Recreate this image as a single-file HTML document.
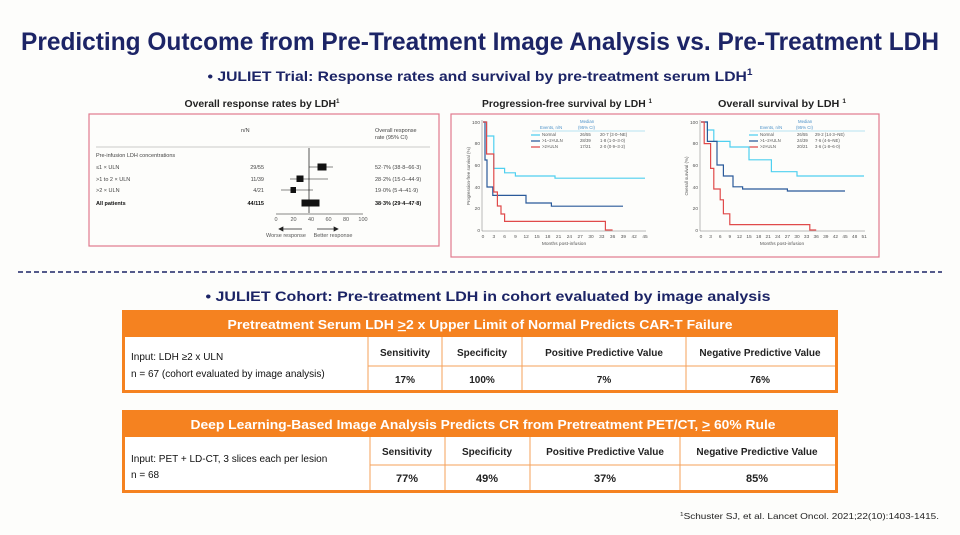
<!DOCTYPE html>
<html><head><meta charset="utf-8"><style>
html,body{margin:0;padding:0;background:#fdfdfb;}
svg{display:block;font-family:"Liberation Sans",sans-serif;}
</style></head><body>
<svg width="960" height="535" viewBox="0 0 960 535" xmlns="http://www.w3.org/2000/svg">
<rect width="960" height="535" fill="#fdfdfb"/>
<text x="480" y="50" text-anchor="middle" font-size="25" font-weight="bold" fill="#1c2466" textLength="918" lengthAdjust="spacingAndGlyphs">Predicting Outcome from Pre-Treatment Image Analysis vs. Pre-Treatment LDH</text>
<text x="480" y="81" text-anchor="middle" font-size="14" font-weight="bold" fill="#1c2466" textLength="545" lengthAdjust="spacingAndGlyphs">• JULIET Trial: Response rates and survival by pre-treatment serum LDH<tspan font-size="9" dy="-6">1</tspan></text>

<!-- ORR -->
<text x="262" y="107" text-anchor="middle" font-size="10" font-weight="bold" fill="#222" textLength="155" lengthAdjust="spacingAndGlyphs">Overall response rates by LDH<tspan font-size="6" dy="-4">1</tspan></text>
<rect x="89" y="114" width="350" height="132" fill="#fdfdfb" stroke="#e07a8e" stroke-width="1.2"/>
<g font-size="5.5" fill="#444">
<text x="241" y="132">n/N</text>
<text x="375" y="132">Overall response</text>
<text x="375" y="139">rate (95% CI)</text>
<line x1="96" y1="147" x2="430" y2="147" stroke="#999" stroke-width="0.6"/>
<text x="96" y="157">Pre-infusion LDH concentrations</text>
<text x="96" y="169">≤1 × ULN</text><text x="264" y="169" text-anchor="end">29/55</text><text x="375" y="169">52·7% (38·8–66·3)</text>
<text x="96" y="181">&gt;1 to 2 × ULN</text><text x="264" y="181" text-anchor="end">11/39</text><text x="375" y="181">28·2% (15·0–44·9)</text>
<text x="96" y="192">&gt;2 × ULN</text><text x="264" y="192" text-anchor="end">4/21</text><text x="375" y="192">19·0% (5·4–41·9)</text>
<text x="96" y="205" font-weight="bold" fill="#111">All patients</text><text x="264" y="205" text-anchor="end" font-weight="bold" fill="#111">44/115</text><text x="375" y="205" font-weight="bold" fill="#111">38·3% (29·4–47·8)</text>
</g>
<g stroke="#111">
<line x1="309" y1="148" x2="309" y2="213" stroke-width="0.7"/>
<line x1="309" y1="167" x2="333" y2="167" stroke-width="0.6"/><rect x="318" y="164" width="8" height="6" fill="#111"/>
<line x1="290" y1="179" x2="328" y2="179" stroke-width="0.6"/><rect x="297" y="176" width="6" height="5.5" fill="#111"/>
<line x1="281" y1="190" x2="313" y2="190" stroke-width="0.6"/><rect x="291" y="187.5" width="4.5" height="5" fill="#111"/>
<rect x="302" y="200" width="17" height="6" fill="#111"/>
<line x1="276" y1="214" x2="363" y2="214" stroke-width="0.6"/>
</g>
<g font-size="5.5" fill="#555" text-anchor="middle">
<text x="276" y="221">0</text><text x="293.5" y="221">20</text><text x="311" y="221">40</text><text x="328.5" y="221">60</text><text x="346" y="221">80</text><text x="363" y="221">100</text>
<text x="286" y="237">Worse response</text><text x="333" y="237">Better response</text>
</g>
<path d="M279,229 H302 M279,229 l4,-2 v4 z M317,229 H338 M338,229 l-4,-2 v4 z" stroke="#222" stroke-width="0.7" fill="#222"/>

<!-- KM box -->
<text x="567" y="107" text-anchor="middle" font-size="10" font-weight="bold" fill="#222" textLength="170" lengthAdjust="spacingAndGlyphs">Progression-free survival by LDH <tspan font-size="6" dy="-4">1</tspan></text>
<text x="782" y="107" text-anchor="middle" font-size="10" font-weight="bold" fill="#222" textLength="128" lengthAdjust="spacingAndGlyphs">Overall survival by LDH <tspan font-size="6" dy="-4">1</tspan></text>
<rect x="451" y="114" width="428" height="143" fill="#fdfdfb" stroke="#e07a8e" stroke-width="1.2"/>
<g stroke="#777" stroke-width="0.5" fill="none">
<path d="M482,120 V231 H646"/><path d="M700,120 V231 H865"/>
</g>
<g font-size="4.8" fill="#555" text-anchor="end">
<text x="480" y="124">100</text><text x="480" y="145">80</text><text x="480" y="167">60</text><text x="480" y="189">40</text><text x="480" y="210">20</text><text x="480" y="232">0</text>
<text x="698" y="124">100</text><text x="698" y="145">80</text><text x="698" y="167">60</text><text x="698" y="189">40</text><text x="698" y="210">20</text><text x="698" y="232">0</text>
</g>
<g font-size="4.8" fill="#555" text-anchor="middle">
<text x="483" y="238">0</text><text x="493.8" y="238">3</text><text x="504.6" y="238">6</text><text x="515.4" y="238">9</text><text x="526.2" y="238">12</text><text x="537" y="238">15</text><text x="547.8" y="238">18</text><text x="558.6" y="238">21</text><text x="569.4" y="238">24</text><text x="580.2" y="238">27</text><text x="591" y="238">30</text><text x="601.8" y="238">33</text><text x="612.6" y="238">36</text><text x="623.4" y="238">39</text><text x="634.2" y="238">42</text><text x="645" y="238">45</text>
<text x="564" y="245">Months post-infusion</text>
<text x="701" y="238">0</text><text x="710.6" y="238">3</text><text x="720.2" y="238">6</text><text x="729.8" y="238">9</text><text x="739.4" y="238">12</text><text x="749" y="238">15</text><text x="758.6" y="238">18</text><text x="768.2" y="238">21</text><text x="777.8" y="238">24</text><text x="787.4" y="238">27</text><text x="797" y="238">30</text><text x="806.6" y="238">33</text><text x="816.2" y="238">36</text><text x="825.8" y="238">39</text><text x="835.4" y="238">42</text><text x="845" y="238">45</text><text x="854.6" y="238">48</text><text x="864.2" y="238">51</text>
<text x="782" y="245">Months post-infusion</text>
<text transform="translate(470,176) rotate(-90)" font-size="4.5">Progression-free survival (%)</text>
<text transform="translate(688,176) rotate(-90)" font-size="4.5">Overall survival (%)</text>
</g>
<g font-size="4.3" fill="#4a90c8">
<text x="580" y="123">Median</text><text x="540" y="129">Events, n/N</text><text x="578" y="129">(95% CI)</text>
<text x="798" y="123">Median</text><text x="760" y="129">Events, n/N</text><text x="796" y="129">(95% CI)</text>
</g>
<line x1="532" y1="131" x2="645" y2="131" stroke="#9fd8ee" stroke-width="0.7"/>
<line x1="750" y1="131" x2="865" y2="131" stroke="#9fd8ee" stroke-width="0.7"/>
<g font-size="4.3" fill="#555">
<text x="542" y="136">Normal</text><text x="580" y="136">26/55</text><text x="600" y="136">20·7 (3·0–NE)</text>
<text x="542" y="142">&gt;1–2×ULN</text><text x="580" y="142">28/39</text><text x="600" y="142">1·8 (1·0–3·0)</text>
<text x="542" y="148">&gt;2×ULN</text><text x="580" y="148">17/21</text><text x="600" y="148">2·0 (0·9–3·2)</text>
<text x="760" y="136">Normal</text><text x="797" y="136">26/55</text><text x="815" y="136">29·2 (14·3–NE)</text>
<text x="760" y="142">&gt;1–2×ULN</text><text x="797" y="142">24/39</text><text x="815" y="142">7·6 (4·6–NE)</text>
<text x="760" y="148">&gt;2×ULN</text><text x="797" y="148">20/21</text><text x="815" y="148">3·6 (1·8–6·0)</text>
</g>
<g stroke-width="1.2" fill="none">
<path d="M531,135 h9 M749,135 h9" stroke="#4fd0f0"/>
<path d="M531,141 h9 M749,141 h9" stroke="#2a5a9a"/>
<path d="M531,147 h9 M749,147 h9" stroke="#e04a4a"/>
<path d="M483,122 H486.6 V136 H493.8 V168.4 H504.6 V172.8 H515.4 V176 H555 V178.2 H645" stroke="#4fd0f0"/>
<path d="M483,122 H485 V160 H487 V187 H492.8 V195.4 H526 V203 H551.4 V206.2 H623" stroke="#2a5a9a"/>
<path d="M483,122 H486.6 V154 H493.8 V192 H497.4 V206 H501 V214 H504.6 V221.4 H605.4 V230 H612.6" stroke="#e04a4a"/>
<path d="M701,122 H707.4 V130 H713.8 V141.4 H730 V147 H749 V159.8 H771.4 V171.7 H797 V176 H864" stroke="#4fd0f0"/>
<path d="M701,122 H707.4 V141.4 H717 V165 H723.4 V176 H733 V186.8 H742.6 V189 H787.4 V191 H845" stroke="#2a5a9a"/>
<path d="M701,122 H704.2 V143.6 H710.6 V168.4 H713.8 V189 H720.2 V199.8 H723.4 V213.8 H729.8 V224.6 H809.8 V230 H816.2" stroke="#e04a4a"/>
</g>

<!-- dashed line -->
<line x1="18" y1="272" x2="942" y2="272" stroke="#1c2466" stroke-width="1.5" stroke-dasharray="5,3"/>
<text x="488" y="301" text-anchor="middle" font-size="14" font-weight="bold" fill="#1c2466" textLength="565" lengthAdjust="spacingAndGlyphs">• JULIET Cohort: Pre-treatment LDH in cohort evaluated by image analysis</text>

<!-- table 1 -->
<rect x="122" y="310" width="716" height="83" fill="#f58220"/>
<text x="480" y="329" text-anchor="middle" font-size="12.5" font-weight="bold" fill="#fff" textLength="505" lengthAdjust="spacingAndGlyphs">Pretreatment Serum LDH <tspan text-decoration="underline">&gt;</tspan>2 x Upper Limit of Normal Predicts CAR-T Failure</text>
<rect x="125" y="337" width="710" height="53" fill="#fff"/>
<g stroke="#f5a05a" stroke-width="1">
<line x1="368" y1="337" x2="368" y2="390"/><line x1="442" y1="337" x2="442" y2="390"/><line x1="522" y1="337" x2="522" y2="390"/><line x1="686" y1="337" x2="686" y2="390"/><line x1="368" y1="366" x2="835" y2="366"/>
</g>
<g font-size="10" fill="#111">
<text x="131" y="360">Input: LDH ≥2 x ULN</text>
<text x="131" y="377">n = 67  (cohort evaluated by image analysis)</text>
</g>
<g font-size="10" font-weight="bold" fill="#222" text-anchor="middle">
<text x="405" y="356">Sensitivity</text><text x="482" y="356">Specificity</text><text x="604" y="356">Positive Predictive Value</text><text x="760" y="356">Negative Predictive Value</text>
<text x="405" y="383">17%</text><text x="482" y="383">100%</text><text x="604" y="383">7%</text><text x="760" y="383">76%</text>
</g>

<!-- table 2 -->
<rect x="122" y="410" width="716" height="83" fill="#f58220"/>
<text x="483" y="429" text-anchor="middle" font-size="12.5" font-weight="bold" fill="#fff" textLength="585" lengthAdjust="spacingAndGlyphs">Deep Learning-Based Image Analysis Predicts CR from Pretreatment PET/CT, <tspan text-decoration="underline">&gt;</tspan> 60% Rule</text>
<rect x="125" y="437" width="710" height="53" fill="#fff"/>
<g stroke="#f5a05a" stroke-width="1">
<line x1="370" y1="437" x2="370" y2="490"/><line x1="445" y1="437" x2="445" y2="490"/><line x1="530" y1="437" x2="530" y2="490"/><line x1="680" y1="437" x2="680" y2="490"/><line x1="370" y1="465" x2="835" y2="465"/>
</g>
<g font-size="10" fill="#111">
<text x="131" y="462">Input: PET + LD-CT, 3 slices each per lesion</text>
<text x="131" y="478">n = 68</text>
</g>
<g font-size="10" font-weight="bold" fill="#222" text-anchor="middle">
<text x="407" y="455">Sensitivity</text><text x="487" y="455">Specificity</text><text x="605" y="455">Positive Predictive Value</text><text x="757" y="455">Negative Predictive Value</text>
<text x="407" y="482" font-size="11">77%</text><text x="487" y="482" font-size="11">49%</text><text x="605" y="482" font-size="11">37%</text><text x="757" y="482" font-size="11">85%</text>
</g>

<text x="680" y="519" font-size="8.5" fill="#222" textLength="259" lengthAdjust="spacingAndGlyphs"><tspan font-size="5.5" dy="-3">1</tspan><tspan dy="3">Schuster SJ, et al. Lancet Oncol. 2021;22(10):1403-1415.</tspan></text>
</svg>
</body></html>
